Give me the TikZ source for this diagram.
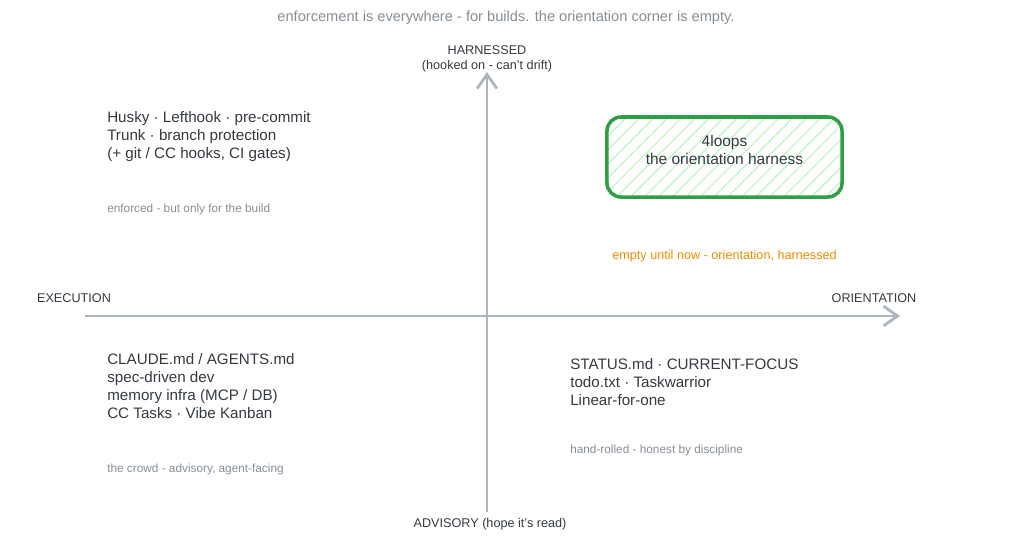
\documentclass[tikz,border=0pt]{standalone}
\usepackage{fontspec}
\setmainfont{Liberation Sans}
\usetikzlibrary{arrows.meta,patterns.meta}

\definecolor{axisgray}{HTML}{ADB5BD}
\definecolor{notegray}{HTML}{868E96}
\definecolor{textdark}{HTML}{343A40}
\definecolor{harnessgreen}{HTML}{2F9E44}
\definecolor{hatchgreen}{HTML}{B2F2BB}
\definecolor{emptyorange}{HTML}{F08C00}

\begin{document}
\begin{tikzpicture}[x=0.025cm,y=-0.025cm,
    every node/.style={inner sep=0pt,text=textdark},
    item/.style={anchor=north west,align=left,font=\fontsize{10.8}{12.8}\selectfont},
    note/.style={anchor=west,text=notegray,font=\fontsize{8.4}{10}\selectfont},
    axislabel/.style={align=center,font=\fontsize{9}{10.5}\selectfont},
    axis/.style={draw=axisgray,line width=2pt,
      -{Straight Barb[length=10pt,width=14pt,line width=2pt]}}]

    \useasboundingbox (0,0) rectangle (1024,535);

    % Subtitle
    \node[text=notegray,font=\fontsize{10.4}{12}\selectfont] (subtitle) at (506,18)
      {enforcement is everywhere - for builds. the orientation corner is empty.};

    % Axes
    \coordinate (west) at (85,316);
    \coordinate (east) at (900,316);
    \coordinate (south) at (487,512);
    \coordinate (north) at (487,72);
    \draw[axis] (west) -- (east);
    \draw[axis] (south) -- (north);

    \node[axislabel] (harnessed) at (487,59) {HARNESSED\\(hooked on - can't drift)};
    \node[axislabel] (advisory) at (490,524) {ADVISORY (hope it's read)};
    \node[axislabel] (execution) at (74,298) {EXECUTION};
    \node[axislabel] (orientation) at (874,298) {ORIENTATION};

    % Top left: enforced
    \node[item] (enforced) at (107,111)
      {Husky · Lefthook · pre-commit\\Trunk · branch protection\\(+ git / CC hooks, CI gates)};
    \node[note] (enforcednote) at (107,209) {enforced - but only for the build};

    % Top right: the harness
    \node[draw=harnessgreen,line width=2.5pt,rounded corners=10pt,
      minimum width=5.875cm,minimum height=2cm,
      pattern={Lines[angle=45,distance=7pt,line width=0.7pt]},pattern color=hatchgreen]
      (harness) at (724.5,157) {};
    \node[align=center,font=\fontsize{11}{12.8}\selectfont] (harnesslabel) at (724.5,150)
      {4loops\\the orientation harness};
    \node[text=emptyorange,font=\fontsize{9}{10}\selectfont] (emptynote) at (724.5,256)
      {empty until now - orientation, harnessed};

    % Bottom left: the crowd
    \node[item] (crowd) at (107,353)
      {CLAUDE.md / AGENTS.md\\spec-driven dev\\memory infra (MCP / DB)\\CC Tasks · Vibe Kanban};
    \node[note] (crowdnote) at (107,469) {the crowd - advisory, agent-facing};

    % Bottom right: hand-rolled
    \node[item] (handrolled) at (570,358)
      {STATUS.md · CURRENT-FOCUS\\todo.txt · Taskwarrior\\Linear-for-one};
    \node[note] (handrollednote) at (570,450) {hand-rolled - honest by discipline};
\end{tikzpicture}
\end{document}
